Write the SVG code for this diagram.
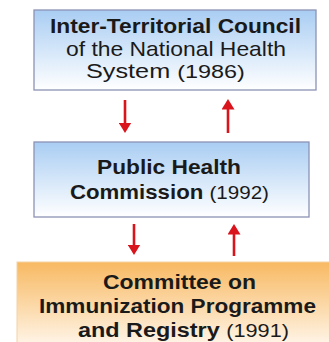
<svg xmlns="http://www.w3.org/2000/svg" width="329" height="342" viewBox="0 0 329 342">
<defs>
<linearGradient id="blue" x1="0" y1="0" x2="0" y2="1">
<stop offset="0" stop-color="#a9cdf3"/>
<stop offset="1" stop-color="#ffffff"/>
</linearGradient>
<linearGradient id="orange" x1="0" y1="0" x2="0" y2="1">
<stop offset="0" stop-color="#f8b962"/>
<stop offset="1" stop-color="#fffaf3"/>
</linearGradient>
<marker id="head" markerWidth="4" markerHeight="5" refX="2.5" refY="2.5" orient="auto" markerUnits="strokeWidth">
<path d="M0,0 L4,2.5 L0,5 Z" fill="#d9141c"/>
</marker>
</defs>
<style>
.box{stroke:#8d93b5;stroke-width:1.3}
.t{font-family:"Liberation Sans",Arial,sans-serif;font-size:20.5px;fill:#1a1a1a}
.b{font-weight:bold}
.y{font-size:19px}
.arr{stroke:#d9141c;stroke-width:2.6;fill:none;marker-end:url(#head)}
</style>
<rect width="329" height="342" fill="#ffffff"/>
<g id="council">
<rect class="box" x="34" y="10" width="282" height="80" fill="url(#blue)"/>
<text class="t b" transform="translate(50 33) scale(1.1 1)" textLength="228.2" lengthAdjust="spacingAndGlyphs">Inter-Territorial Council</text>
<text class="t" transform="translate(66 55.5) scale(1.1 1)" textLength="200" lengthAdjust="spacingAndGlyphs">of the National Health</text>
<text class="t" transform="translate(86 78) scale(1.1 1)" textLength="144.5" lengthAdjust="spacingAndGlyphs">System <tspan class="y">(1986)</tspan></text>
</g>
<g id="commission">
<rect class="box" x="34" y="142" width="275" height="75" fill="url(#blue)"/>
<text class="t b" transform="translate(97 174) scale(1.1 1)" textLength="130.9" lengthAdjust="spacingAndGlyphs">Public Health</text>
<text class="t" transform="translate(70 199) scale(1.1 1)" textLength="180.9" lengthAdjust="spacingAndGlyphs"><tspan class="b">Commission</tspan> <tspan class="y">(1992)</tspan></text>
</g>
<g id="committee">
<rect x="17" y="262" width="320" height="90" fill="url(#orange)" stroke="#f3d2a6" stroke-width="1"/>
<text class="t b" transform="translate(103 289) scale(1.1 1)" textLength="139.1" lengthAdjust="spacingAndGlyphs">Committee on</text>
<text class="t b" transform="translate(39 313) scale(1.1 1)" textLength="251.8" lengthAdjust="spacingAndGlyphs">Immunization Programme</text>
<text class="t" transform="translate(78 337) scale(1.1 1)" textLength="191.8" lengthAdjust="spacingAndGlyphs"><tspan class="b">and Registry</tspan> <tspan class="y">(1991)</tspan></text>
</g>
<g id="connectors">
<line class="arr" x1="125" y1="100" x2="125" y2="129"/>
<line class="arr" x1="228" y1="133" x2="228" y2="103"/>
<line class="arr" x1="134" y1="224" x2="134" y2="251"/>
<line class="arr" x1="234" y1="256" x2="234" y2="228"/>
</g>
</svg>
